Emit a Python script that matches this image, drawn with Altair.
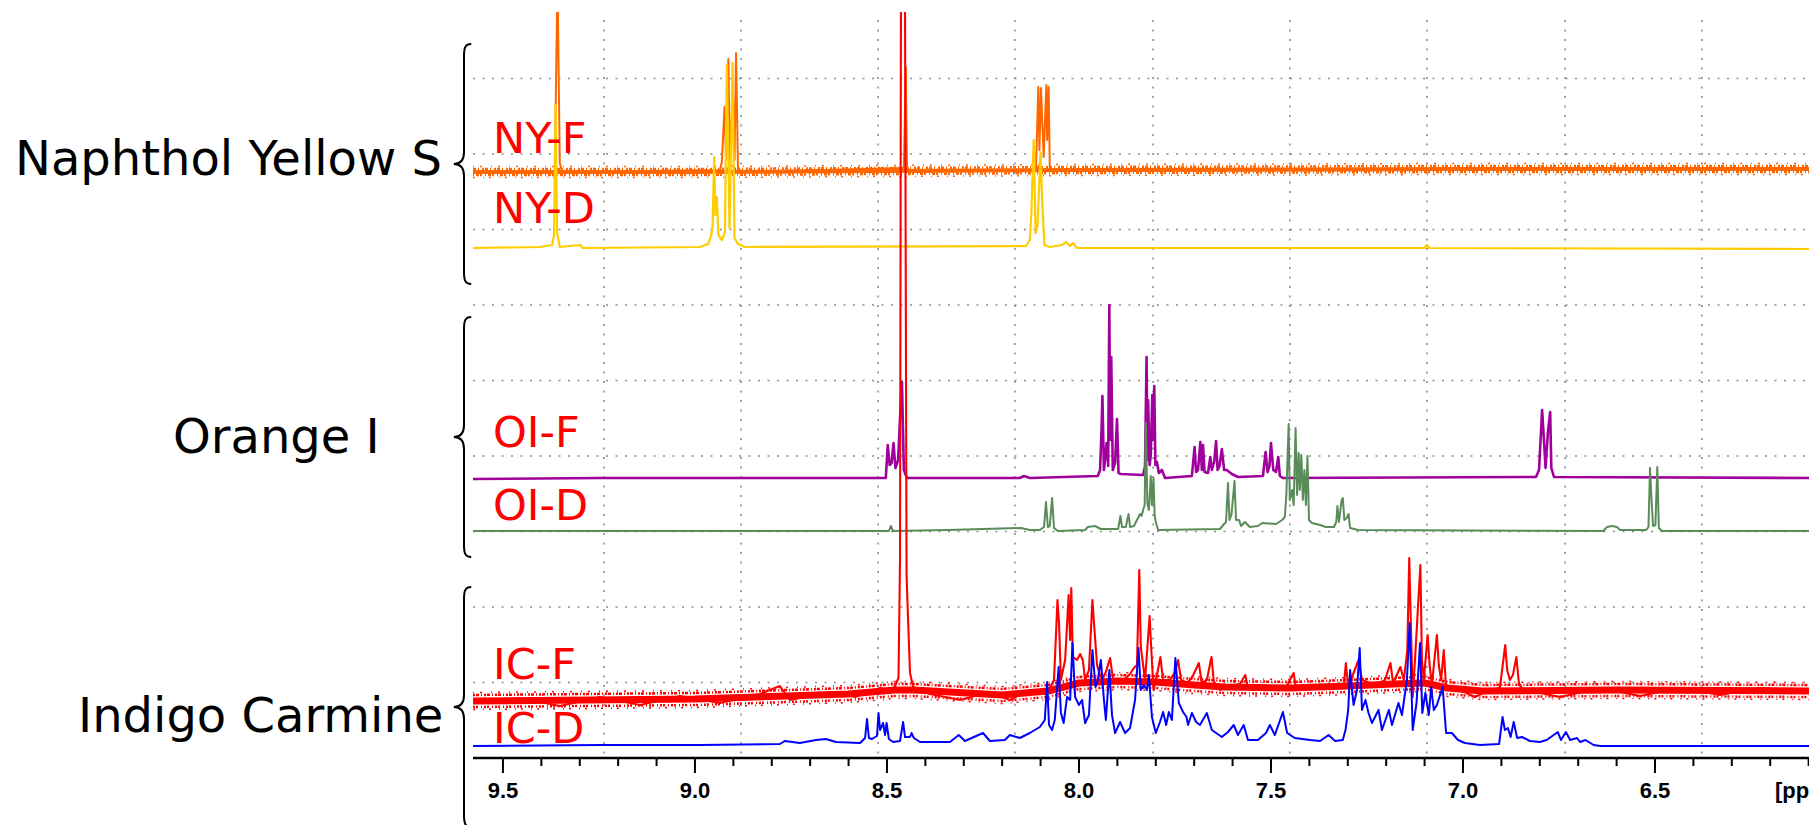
import altair as alt
import pandas as pd

# ---------------- data (chemical shift in ppm, stacked intensity in a.u.) ----------------
X_LO, X_HI = 6.099, 9.578
Y_TOP = 746

major_ticks = [9.5, 9.0, 8.5, 8.0, 7.5, 7.0, 6.5]
major_labels = ["9.5", "9.0", "8.5", "8.0", "7.5", "7.0", "6.5"]
minor_ticks = [9.4, 9.3, 9.2, 9.1, 8.9, 8.8, 8.7, 8.6, 8.4, 8.3, 8.2, 8.1,
               7.9, 7.8, 7.7, 7.6, 7.4, 7.3, 7.2, 7.1, 6.9, 6.8, 6.7, 6.6,
               6.4, 6.3, 6.2, 6.1]
grid_ppm = [9.237, 8.880, 8.523, 8.167, 7.807, 7.451, 7.094, 6.734, 6.378]
grid_int = [75.5, 151, 226.5, 302, 377.5, 453, 528.5, 604, 679.5]

# Naphthol Yellow S, F
ny_f = [(9.578, 585), (9.365, 586), (9.358, 780), (9.352, 595), (9.346, 586),
        (8.935, 588), (8.930, 596), (8.923, 651), (8.919, 598), (8.913, 699), (8.909, 598),
        (8.901, 665), (8.897, 598), (8.893, 705), (8.888, 590), (8.878, 586),
        (8.456, 590), (8.451, 691), (8.448, 593), (8.443, 586),
        (8.112, 588), (8.106, 671), (8.103, 608), (8.099, 670), (8.092, 601), (8.085, 673),
        (8.083, 618), (8.079, 671), (8.076, 590), (8.068, 587), (6.099, 589)]
# local baseline of the NY-F noise band
ny_f_noise = [(9.578, 586), (9.0, 586), (8.5, 587), (8.0, 588), (7.0, 589), (6.099, 589)]

# Naphthol Yellow S, D
ny_d = [(9.578, 510), (9.404, 511), (9.372, 513), (9.367, 523), (9.363, 653), (9.359, 525),
        (9.352, 511), (9.299, 513), (9.292, 510), (8.987, 511), (8.966, 514), (8.958, 522),
        (8.954, 533), (8.950, 601), (8.947, 543), (8.943, 561), (8.939, 523), (8.930, 518),
        (8.922, 526), (8.917, 693), (8.910, 530), (8.902, 695), (8.897, 520), (8.888, 514),
        (8.870, 511), (8.138, 512), (8.128, 518), (8.124, 545), (8.118, 618), (8.113, 525),
        (8.108, 533), (8.100, 606), (8.096, 558), (8.090, 513), (8.076, 511), (8.044, 513),
        (8.034, 516), (8.023, 512), (8.016, 515), (8.005, 510), (7.100, 510), (7.094, 513),
        (7.088, 510), (6.099, 509)]

# Orange I, F
oi_f = [(9.578, 279), (9.247, 280), (8.503, 280), (8.498, 313), (8.493, 293), (8.488, 295),
        (8.483, 315), (8.478, 290), (8.471, 298), (8.466, 340), (8.461, 376), (8.456, 288),
        (8.448, 280), (8.154, 280), (8.143, 282), (8.128, 280), (7.951, 282), (7.945, 288),
        (7.941, 331), (7.939, 362), (7.935, 288), (7.928, 315), (7.924, 292), (7.921, 453),
        (7.919, 318), (7.916, 401), (7.912, 288), (7.906, 295), (7.901, 339), (7.897, 285),
        (7.891, 284), (7.833, 283), (7.828, 292), (7.824, 401), (7.822, 298), (7.820, 358),
        (7.816, 293), (7.813, 303), (7.809, 363), (7.806, 318), (7.804, 372), (7.801, 293),
        (7.797, 296), (7.792, 285), (7.784, 288), (7.776, 280), (7.706, 282), (7.699, 311),
        (7.695, 286), (7.690, 288), (7.684, 316), (7.680, 288), (7.677, 313), (7.673, 286),
        (7.664, 285), (7.658, 301), (7.654, 288), (7.648, 296), (7.643, 317), (7.639, 288),
        (7.634, 292), (7.628, 309), (7.622, 288), (7.615, 288), (7.602, 284), (7.586, 281),
        (7.521, 282), (7.514, 306), (7.509, 286), (7.504, 292), (7.500, 315), (7.494, 288),
        (7.487, 286), (7.481, 301), (7.477, 282), (7.469, 280), (6.810, 281), (6.802, 288),
        (6.794, 348), (6.790, 323), (6.785, 290), (6.779, 325), (6.773, 346), (6.770, 290),
        (6.763, 281), (6.099, 280)]

# Orange I, D
oi_d = [(9.578, 227), (8.495, 227), (8.490, 232), (8.484, 227), (8.341, 228), (8.151, 230),
        (8.128, 228), (8.102, 228), (8.091, 231), (8.086, 256), (8.081, 231), (8.076, 232),
        (8.070, 260), (8.065, 230), (8.055, 227), (7.984, 228), (7.977, 231), (7.958, 232),
        (7.943, 229), (7.898, 229), (7.892, 242), (7.888, 231), (7.878, 231), (7.871, 244),
        (7.867, 231), (7.857, 232), (7.849, 238), (7.841, 244), (7.837, 242), (7.833, 248),
        (7.829, 253), (7.826, 335), (7.822, 255), (7.818, 248), (7.813, 282), (7.810, 253),
        (7.806, 280), (7.803, 243), (7.800, 236), (7.794, 228), (7.633, 229), (7.622, 234),
        (7.617, 236), (7.612, 275), (7.608, 238), (7.603, 243), (7.595, 277), (7.591, 238),
        (7.583, 238), (7.578, 232), (7.568, 236), (7.555, 231), (7.534, 232), (7.523, 235),
        (7.487, 234), (7.471, 238), (7.464, 241), (7.460, 263), (7.454, 334), (7.451, 258),
        (7.445, 268), (7.441, 253), (7.436, 330), (7.432, 263), (7.428, 305), (7.425, 268),
        (7.421, 303), (7.417, 258), (7.413, 288), (7.409, 253), (7.405, 302), (7.401, 238),
        (7.393, 235), (7.372, 233), (7.357, 231), (7.336, 231), (7.330, 236), (7.327, 252),
        (7.323, 236), (7.316, 258), (7.313, 260), (7.309, 238), (7.303, 240), (7.298, 244),
        (7.294, 230), (7.273, 228), (6.635, 227), (6.625, 231), (6.612, 232), (6.599, 231),
        (6.591, 228), (6.523, 228), (6.517, 231), (6.513, 290), (6.509, 258), (6.505, 232),
        (6.499, 233), (6.494, 291), (6.490, 230), (6.482, 227), (6.099, 227)]

# Indigo Carmine, F
ic_f = [(9.578, 55), (9.456, 60), (9.352, 52), (9.247, 61), (9.143, 53), (9.039, 62),
        (8.935, 55), (8.831, 64), (8.779, 72), (8.753, 58), (8.648, 66), (8.583, 61),
        (8.518, 70), (8.484, 68), (8.470, 80), (8.466, 198), (8.463, 900), (8.454, 900),
        (8.449, 183), (8.445, 138), (8.440, 85), (8.432, 71), (8.388, 64), (8.310, 58),
        (8.232, 66), (8.180, 58), (8.128, 68), (8.089, 64), (8.076, 70), (8.065, 78),
        (8.056, 158), (8.052, 135), (8.047, 78), (8.036, 98), (8.027, 163), (8.023, 118),
        (8.020, 170), (8.016, 101), (8.005, 98), (7.997, 104), (7.990, 98), (7.984, 78),
        (7.974, 88), (7.965, 158), (7.960, 130), (7.953, 93), (7.948, 86), (7.940, 78),
        (7.930, 86), (7.919, 100), (7.911, 78), (7.898, 75), (7.883, 78), (7.867, 84),
        (7.857, 90), (7.849, 93), (7.843, 188), (7.839, 111), (7.828, 78), (7.816, 142),
        (7.813, 118), (7.806, 68), (7.797, 83), (7.788, 101), (7.781, 78), (7.763, 78),
        (7.750, 86), (7.742, 98), (7.734, 78), (7.719, 75), (7.706, 80), (7.688, 95),
        (7.680, 75), (7.667, 78), (7.655, 101), (7.648, 73), (7.633, 68), (7.607, 72),
        (7.581, 74), (7.567, 83), (7.560, 70), (7.529, 68), (7.487, 72), (7.464, 68),
        (7.441, 85), (7.435, 70), (7.398, 72), (7.346, 70), (7.310, 74), (7.305, 95),
        (7.300, 75), (7.294, 76), (7.272, 98), (7.263, 78), (7.229, 73), (7.203, 78),
        (7.189, 95), (7.182, 75), (7.163, 91), (7.154, 78), (7.145, 108), (7.140, 200),
        (7.136, 138), (7.131, 61), (7.125, 98), (7.111, 193), (7.107, 98), (7.102, 78),
        (7.092, 123), (7.087, 93), (7.081, 73), (7.068, 123), (7.063, 93), (7.057, 78),
        (7.050, 108), (7.044, 70), (7.008, 68), (6.969, 61), (6.930, 68), (6.904, 70),
        (6.890, 113), (6.885, 88), (6.878, 78), (6.870, 83), (6.861, 101), (6.854, 73),
        (6.839, 68), (6.747, 61), (6.643, 70), (6.539, 62), (6.435, 70), (6.331, 63),
        (6.227, 70), (6.099, 66)]
# local baseline of the IC-F noise band
ic_f_noise = [(9.578, 57), (9.0, 59), (8.6, 64), (8.48, 68), (8.43, 68), (8.2, 63), (8.08, 67),
              (8.0, 75), (7.9, 77), (7.8, 76), (7.7, 73), (7.62, 71), (7.45, 70), (7.3, 72),
              (7.18, 74), (7.1, 75), (7.04, 70), (6.95, 67), (6.6, 68), (6.099, 67)]

# Indigo Carmine, D
ic_d = [(9.578, 12), (9.247, 13), (8.987, 13), (8.779, 14), (8.766, 17), (8.727, 15), (8.685, 18),
        (8.659, 19), (8.633, 16), (8.570, 15), (8.557, 20), (8.552, 39), (8.547, 20), (8.539, 19),
        (8.526, 22), (8.522, 45), (8.518, 28), (8.510, 35), (8.505, 23), (8.501, 35), (8.495, 19),
        (8.484, 16), (8.466, 17), (8.458, 36), (8.453, 21), (8.440, 21), (8.436, 25), (8.430, 20),
        (8.414, 16), (8.336, 16), (8.313, 23), (8.297, 17), (8.250, 25), (8.232, 17), (8.193, 18),
        (8.180, 23), (8.154, 20), (8.128, 25), (8.102, 31), (8.089, 38), (8.083, 76), (8.078, 33),
        (8.070, 28), (8.063, 38), (8.053, 91), (8.047, 45), (8.040, 35), (8.031, 61), (8.023, 58),
        (8.017, 115), (8.010, 61), (8.000, 53), (7.992, 58), (7.984, 35), (7.974, 43), (7.965, 108),
        (7.957, 71), (7.951, 78), (7.943, 98), (7.935, 58), (7.930, 38), (7.921, 88), (7.914, 43),
        (7.906, 25), (7.893, 36), (7.880, 25), (7.867, 30), (7.854, 58), (7.845, 110), (7.839, 68),
        (7.831, 73), (7.823, 68), (7.818, 83), (7.810, 41), (7.800, 25), (7.789, 36), (7.781, 46),
        (7.773, 33), (7.766, 46), (7.758, 38), (7.749, 100), (7.740, 55), (7.729, 46), (7.720, 41),
        (7.716, 33), (7.706, 45), (7.695, 36), (7.685, 33), (7.667, 45), (7.654, 28), (7.628, 21),
        (7.612, 26), (7.597, 33), (7.586, 23), (7.571, 33), (7.560, 18), (7.534, 18), (7.513, 25),
        (7.503, 33), (7.490, 23), (7.479, 35), (7.469, 46), (7.458, 25), (7.438, 20), (7.398, 18),
        (7.372, 17), (7.350, 23), (7.333, 17), (7.313, 18), (7.306, 28), (7.299, 48), (7.294, 88),
        (7.285, 53), (7.276, 68), (7.269, 110), (7.263, 48), (7.254, 58), (7.246, 45), (7.237, 35),
        (7.220, 48), (7.211, 28), (7.193, 48), (7.185, 33), (7.168, 55), (7.159, 43), (7.146, 78),
        (7.139, 135), (7.131, 28), (7.121, 55), (7.112, 115), (7.106, 45), (7.098, 65), (7.089, 43),
        (7.083, 71), (7.076, 48), (7.068, 53), (7.053, 71), (7.044, 25), (7.029, 25), (7.013, 18),
        (6.995, 15), (6.956, 13), (6.906, 14), (6.897, 41), (6.891, 28), (6.883, 30), (6.876, 21),
        (6.868, 36), (6.859, 20), (6.846, 21), (6.826, 17), (6.800, 16), (6.782, 18), (6.753, 26),
        (6.745, 18), (6.732, 26), (6.721, 18), (6.703, 20), (6.695, 16), (6.681, 18), (6.660, 13),
        (6.643, 12), (6.099, 12)]

trace_labels = ["NY-F", "NY-D", "OI-F", "OI-D", "IC-F", "IC-D"]
trace_label_int = [605, 535, 311, 238, 79, 15]
compound_names = ["Naphthol Yellow S", "Orange I", "Indigo Carmine"]

# ---------------- chart ----------------
W = 1336
xs = alt.Scale(domain=[X_LO, X_HI], reverse=True, nice=False, zero=False)
ys = alt.Scale(domain=[0, Y_TOP], nice=False, zero=False)
GRID = dict(strokeDash=[2, 7.5], color="#8c8c8c", strokeWidth=1.6)


def X(field="ppm"):
    return alt.X(f"{field}:Q", scale=xs, axis=None)


def Y(field="inten"):
    return alt.Y(f"{field}:Q", scale=ys, axis=None)


def line_layer(pairs, color, width, **style):
    df = pd.DataFrame(pairs, columns=["ppm", "inten"])
    df["i"] = range(len(df))
    return alt.Chart(df).mark_line(color=color, strokeWidth=width, clip=True,
                                   strokeJoin="round", **style).encode(x=X(), y=Y(), order="i:Q")


def noise_band(pairs, color, core, fuzz, dash):
    """Noise drawn as a band around the trace's local baseline, with ragged edges."""
    return [
        line_layer(pairs, color, core),
        line_layer(pairs, color, 2.5, yOffset=-fuzz, strokeDash=dash),
        line_layer(pairs, color, 2.5, yOffset=fuzz, strokeDash=dash[::-1]),
        line_layer(pairs, color, 1.5, yOffset=-fuzz - 2.5, strokeDash=[1, 6, 2, 9]),
        line_layer(pairs, color, 1.5, yOffset=fuzz + 2.5, strokeDash=[2, 8, 1, 5]),
    ]


hgrid = alt.Chart(pd.DataFrame({"inten": grid_int})).mark_rule(**GRID).encode(
    y=Y(), x=alt.value(0), x2=alt.value(W))
vgrid = alt.Chart(pd.DataFrame({"ppm": grid_ppm})).mark_rule(**GRID).encode(
    x=X(), y=alt.value(8), y2=alt.value(Y_TOP))

axis_line = alt.Chart(pd.DataFrame({"a": [0]})).mark_rule(color="black", strokeWidth=2.5).encode(
    x=alt.value(0), x2=alt.value(W), y=alt.value(Y_TOP))
minor = alt.Chart(pd.DataFrame({"ppm": minor_ticks})).mark_rule(color="black", strokeWidth=2).encode(
    x=X(), y=alt.value(Y_TOP), y2=alt.value(Y_TOP + 8))
major = alt.Chart(pd.DataFrame({"ppm": major_ticks})).mark_rule(color="black", strokeWidth=2).encode(
    x=X(), y=alt.value(Y_TOP), y2=alt.value(Y_TOP + 15))
tick_text = alt.Chart(pd.DataFrame({"ppm": major_ticks, "t": major_labels})).mark_text(
    align="center", baseline="alphabetic", font="Liberation Sans", fontWeight="bold",
    fontSize=22, color="black").encode(x=X(), y=alt.value(786), text="t:N")
ppm_label = alt.Chart(pd.DataFrame({"t": ["[pp"], "ppm": [6.1875]})).mark_text(
    align="left", baseline="alphabetic", font="Liberation Sans", fontWeight="bold",
    fontSize=22, color="black").encode(x=X(), y=alt.value(786), text="t:N")

labels_df = pd.DataFrame({"t": trace_labels, "ppm": [9.526] * 6, "inten": trace_label_int})
labels = alt.Chart(labels_df).mark_text(
    align="left", baseline="alphabetic", font="DejaVu Sans", fontSize=43, color="#ff0000"
).encode(x=X(), y=Y(), text="t:N")

name_layout = [(-458, 163), (-300, 441), (-395, 720)]
names = []
for nm, (px, py) in zip(compound_names, name_layout):
    names.append(alt.Chart(pd.DataFrame({"t": [nm]})).mark_text(
        align="left", baseline="alphabetic", font="DejaVu Sans", fontSize=48, color="black"
    ).encode(x=alt.value(px), y=alt.value(py), text="t:N"))

BRACE = ("M0.06,-1 C0.01,-1 0,-0.97 0,-0.9 L0,-0.1 C0,-0.03 -0.03,0 -0.085,0 "
         "C-0.03,0 0,0.03 0,0.1 L0,0.9 C0,0.97 0.01,1 0.06,1")
braces = []
for by in [152, 425, 695]:
    braces.append(alt.Chart(pd.DataFrame({"a": [0]})).mark_point(
        shape=BRACE, size=57600, filled=False, color="black", strokeWidth=2, opacity=1
    ).encode(x=alt.value(-9), y=alt.value(by)))

chart = alt.layer(
    hgrid,
    vgrid,
    *noise_band(ny_f_noise, "#ff6600", 4, 3, [3, 2, 1, 3, 2, 1]),
    line_layer(ny_f, "#ff6600", 2),
    line_layer(ny_d, "#ffcc00", 2.2),
    line_layer(oi_f, "#a0009b", 2.6),
    line_layer(oi_d, "#5a8c5a", 2),
    *noise_band(ic_f_noise, "#ff0000", 7, 6, [2, 1, 3, 2, 1, 2]),
    line_layer(ic_f, "#ff0000", 2.1),
    line_layer(ic_d, "#0000ff", 2),
    axis_line,
    minor,
    major,
    tick_text,
    ppm_label,
    labels,
    *names,
    *braces,
).properties(
    width=W, height=Y_TOP,
    autosize=alt.AutoSizeParams(type="none"),
    padding={"left": 473, "top": 12, "right": 0, "bottom": 67},
    background="white",
).configure_view(stroke=None)

chart.save("out.html", embed_options={"renderer": "svg", "actions": False})
